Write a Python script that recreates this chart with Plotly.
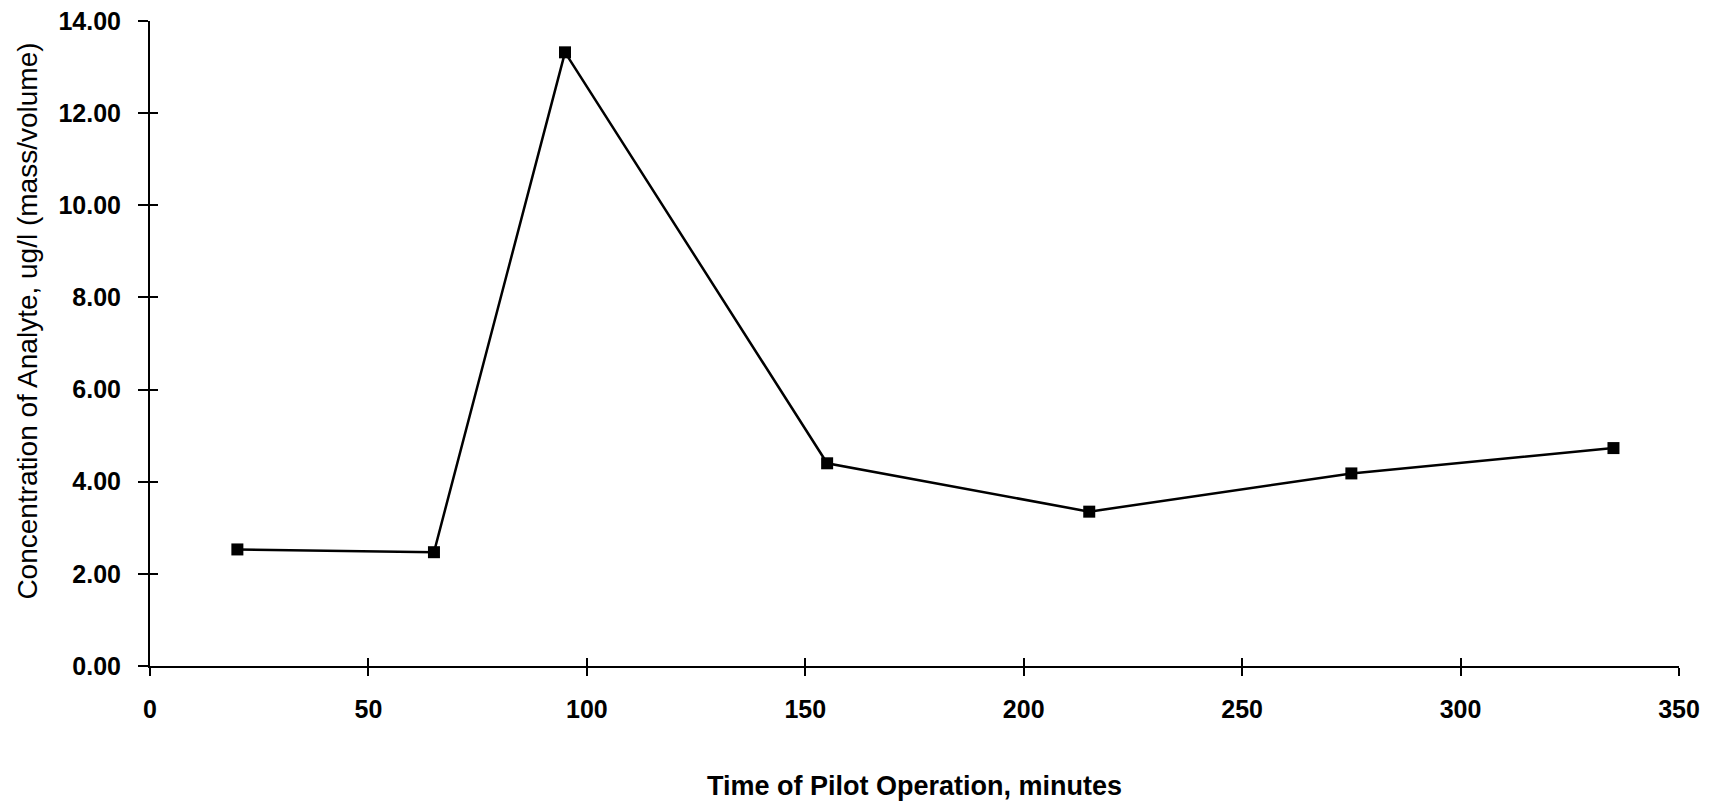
import plotly.graph_objects as go

# Pilot run: sampling time (minutes) and measured analyte concentration (ug/l)
time_min = [20, 65, 95, 155, 215, 275, 335]
concentration = [2.53, 2.47, 13.32, 4.40, 3.35, 4.18, 4.73]

x_ticks = [0, 50, 100, 150, 200, 250, 300, 350]
y_ticks = [0, 2, 4, 6, 8, 10, 12, 14]
y_tick_text = [f"{v:.2f}" for v in y_ticks]

x_title = "Time of Pilot Operation, minutes"
y_title = "Concentration of Analyte, ug/l (mass/volume)"

tick_font = dict(family="Liberation Sans, Arial, sans-serif", size=25,
                 color="black", weight="bold")

fig = go.Figure()
fig.add_trace(go.Scatter(
    x=time_min, y=concentration, mode="lines+markers",
    line=dict(color="black", width=2.5),
    marker=dict(symbol="square", size=12, color="black"),
    showlegend=False,
))

common = dict(showgrid=False, zeroline=False, tickcolor="black", tickwidth=1.6,
              automargin=False)

fig.update_layout(
    width=1717, height=807,
    margin=dict(l=150, r=38, t=21, b=141),
    paper_bgcolor="white", plot_bgcolor="white",
    xaxis=dict(range=[0, 350], tickvals=x_ticks, ticks="outside", ticklen=8,
               showline=True, linecolor="black", linewidth=2,
               tickfont=tick_font, ticklabelstandoff=12, **common),
    yaxis=dict(range=[0, 14], tickvals=y_ticks, ticktext=y_tick_text,
               ticks="outside", ticklen=10,
               showline=True, linecolor="black", linewidth=2,
               tickfont=tick_font, ticklabelstandoff=12, **common),
    # overlaid copies of the axes draw the inner half of each crossing tick
    xaxis2=dict(range=[0, 350], tickvals=x_ticks, ticks="inside", ticklen=8,
                showticklabels=False, overlaying="x", anchor="y", side="bottom",
                showline=False, **common),
    yaxis2=dict(range=[0, 14], tickvals=y_ticks, ticks="inside", ticklen=8,
                showticklabels=False, overlaying="y", anchor="x", side="left",
                showline=False, **common),
    annotations=[
        dict(text=f"<b>{x_title}</b>", xref="paper", yref="paper",
             x=0.5, y=-0.186, xanchor="center", yanchor="middle", showarrow=False,
             font=dict(family="Liberation Sans, Arial, sans-serif", size=27, color="black")),
        dict(text=y_title, xref="paper", yref="paper", textangle=-90,
             x=-0.08, y=0.535, xanchor="center", yanchor="middle", showarrow=False,
             font=dict(family="Liberation Sans Narrow, Arial Narrow, sans-serif", size=28, color="black")),
    ],
)

# invisible trace binds the overlay axes so their ticks are drawn
fig.add_trace(go.Scatter(x=[None], y=[None], xaxis="x2", yaxis="y2",
                         showlegend=False, hoverinfo="skip"))

fig.write_html("out.html")
